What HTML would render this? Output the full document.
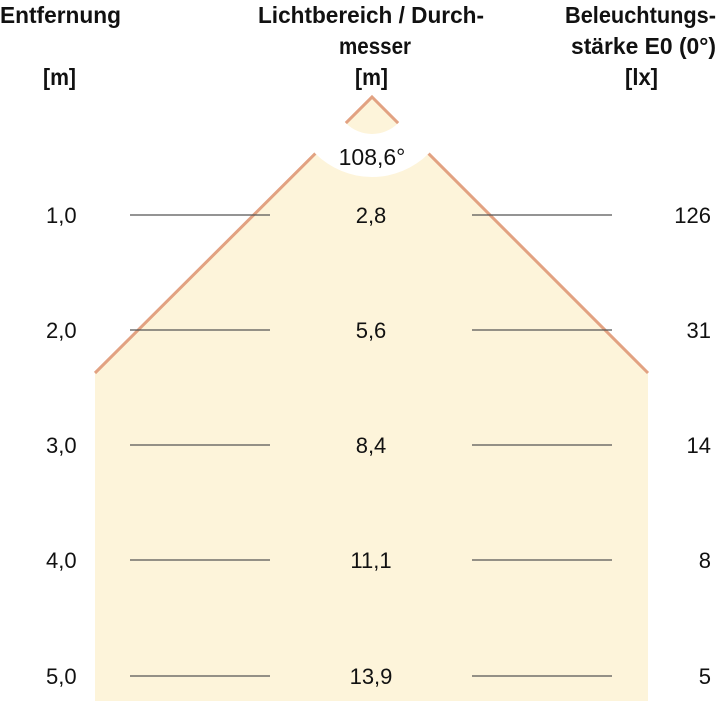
<!DOCTYPE html>
<html><head><meta charset="utf-8"><style>
body{margin:0;background:#fff;}
svg text{font-family:"Liberation Sans",sans-serif;fill:#111;}
</style></head><body>
<svg width="720" height="701" viewBox="0 0 720 701" xmlns="http://www.w3.org/2000/svg">
<defs><mask id="m"><rect width="720" height="701" fill="#fff"/>
<path d="M372,97 m-80,0 a80,80 0 1,0 160,0 a80,80 0 1,0 -160,0 M372,97 m-37,0 a37,37 0 1,1 74,0 a37,37 0 1,1 -74,0" fill="#000" fill-rule="evenodd"/></mask></defs>
<g mask="url(#m)">
<polygon points="372,97 648,373 648,701 95,701 95,373" fill="#fdf4da"/>
<polyline points="95,373 372,97 648,373" fill="none" stroke="#e2a282" stroke-width="3"/>
</g>
<g stroke="#555" stroke-width="1.2">
<line x1="130" y1="215" x2="270" y2="215"/><line x1="472" y1="215" x2="612" y2="215"/>
<line x1="130" y1="330" x2="270" y2="330"/><line x1="472" y1="330" x2="612" y2="330"/>
<line x1="130" y1="445" x2="270" y2="445"/><line x1="472" y1="445" x2="612" y2="445"/>
<line x1="130" y1="560" x2="270" y2="560"/><line x1="472" y1="560" x2="612" y2="560"/>
<line x1="130" y1="676" x2="270" y2="676"/><line x1="472" y1="676" x2="612" y2="676"/>
</g>
<g font-weight="bold" font-size="23" lengthAdjust="spacingAndGlyphs">
<text x="0" y="23" textLength="121" lengthAdjust="spacingAndGlyphs">Entfernung</text>
<text x="43" y="85" textLength="33" lengthAdjust="spacingAndGlyphs">[m]</text>
<text x="258" y="23" textLength="226" lengthAdjust="spacingAndGlyphs">Lichtbereich / Durch-</text>
<text x="339" y="54" textLength="72" lengthAdjust="spacingAndGlyphs">messer</text>
<text x="355" y="85" textLength="33" lengthAdjust="spacingAndGlyphs">[m]</text>
<text x="565" y="23" textLength="151" lengthAdjust="spacingAndGlyphs">Beleuchtungs-</text>
<text x="571" y="54" textLength="145" lengthAdjust="spacingAndGlyphs">stärke E0 (0°)</text>
<text x="625" y="85" textLength="33" lengthAdjust="spacingAndGlyphs">[lx]</text>
</g>
<g font-size="22">
<text x="372" y="165" text-anchor="middle" font-size="23">108,6°</text>
<text x="46" y="223">1,0</text><text x="371" y="223" text-anchor="middle">2,8</text><text x="711" y="223" text-anchor="end">126</text>
<text x="46" y="338">2,0</text><text x="371" y="338" text-anchor="middle">5,6</text><text x="711" y="338" text-anchor="end">31</text>
<text x="46" y="453">3,0</text><text x="371" y="453" text-anchor="middle">8,4</text><text x="711" y="453" text-anchor="end">14</text>
<text x="46" y="568">4,0</text><text x="371" y="568" text-anchor="middle">11,1</text><text x="711" y="568" text-anchor="end">8</text>
<text x="46" y="684">5,0</text><text x="371" y="684" text-anchor="middle">13,9</text><text x="711" y="684" text-anchor="end">5</text>
</g>
</svg>
</body></html>
